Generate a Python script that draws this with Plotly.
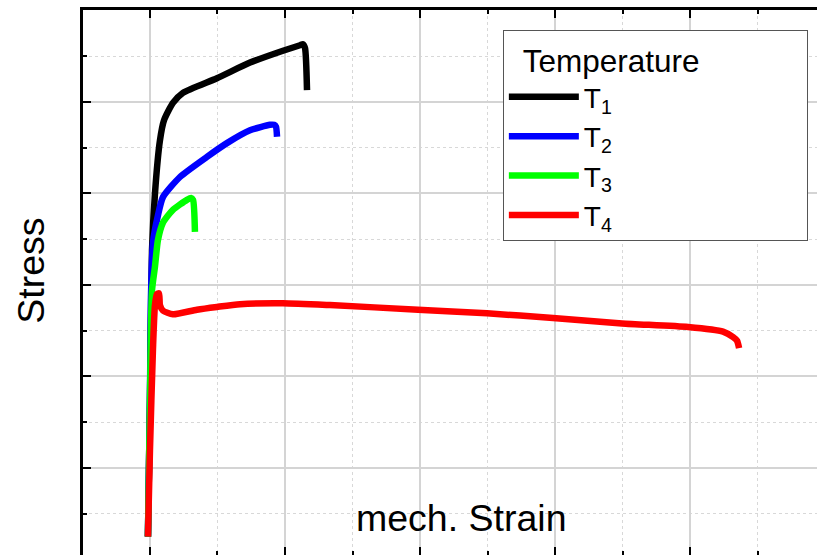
import plotly.graph_objects as go

# strain (arbitrary units, major grid every 10) and stress (major grid every 100)
t1_strain = [-0.15, 0.0, 0.15, 0.37, 0.74, 1.04, 1.70, 2.44, 4.96, 7.41, 9.85, 11.11, 11.33, 11.48, 11.63]
t1_stress = [-75, 74, 238, 300, 358, 380, 399, 410, 426, 443, 456, 462, 463, 459, 413]

t2_strain = [-0.15, 0.0, 0.07, 0.22, 0.59, 0.96, 2.22, 4.22, 5.70, 7.41, 8.89, 9.19, 9.33, 9.41]
t2_stress = [-75, 74, 184, 246, 276, 296, 318, 340, 355, 369, 375, 375, 373, 362]

t3_strain = [-0.15, 0.0, 0.15, 0.37, 0.59, 0.96, 1.70, 2.74, 3.04, 3.19, 3.33]
t3_stress = [-75, 74, 194, 220, 249, 268, 282, 293, 295, 293, 258]

t4_strain = [-0.15, 0.0, 0.22, 0.37, 0.52, 0.67, 0.74, 0.96, 1.70, 3.48, 4.96, 6.67, 9.85, 13.33,
             19.85, 24.96, 29.85, 34.96, 39.85, 42.44, 43.19, 43.48, 43.63]
t4_stress = [-75, 20, 129, 178, 190, 191, 178, 172, 168, 173, 176, 179, 180, 178,
             173, 169, 164, 158, 154, 149, 143, 139, 131]

series_names = ["T<sub>1</sub>", "T<sub>2</sub>", "T<sub>3</sub>", "T<sub>4</sub>"]
series_colors = ["#000000", "#0000ff", "#00ff00", "#ff0000"]
series_x = [t1_strain, t2_strain, t3_strain, t4_strain]
series_y = [t1_stress, t2_stress, t3_stress, t4_stress]

FONT = "Arial, Liberation Sans, sans-serif"

fig = go.Figure()
for name, col, xs, ys in zip(series_names, series_colors, series_x, series_y):
    fig.add_trace(go.Scatter(x=xs, y=ys, mode="lines", name=name,
                             line=dict(color=col, width=6.5, shape="spline", smoothing=0.6)))

axis_common = dict(showticklabels=False, ticks="inside", tickcolor="black",
                   showline=True, linecolor="black", linewidth=3,
                   gridcolor="#d4d4d4", gridwidth=1.5, zeroline=False, automargin=False)

fig.update_xaxes(range=[-4.96, 49.4], tick0=0, dtick=10, ticklen=8, tickwidth=2, mirror="allticks",
                 minor=dict(dtick=5, ticks="inside", ticklen=4, tickcolor="black",
                            showgrid=True, gridcolor="#d8d8d8", griddash="dot", gridwidth=1),
                 **axis_common)
fig.update_yaxes(range=[-95.1, 500.5], tick0=0, dtick=100, ticklen=8, tickwidth=2, mirror=False,
                 minor=dict(dtick=50, ticks="inside", ticklen=4, tickcolor="black",
                            showgrid=True, gridcolor="#d8d8d8", griddash="dot", gridwidth=1),
                 **axis_common)

fig.add_annotation(text="mech. Strain", x=0.515, y=0.068, xref="paper", yref="paper",
                   showarrow=False, font=dict(family=FONT, size=37.5, color="black"),
                   xanchor="center", yanchor="middle")
fig.add_annotation(text="Stress", x=-0.072, y=0.522, xref="paper", yref="paper",
                   showarrow=False, textangle=-90,
                   font=dict(family=FONT, size=37.5, color="black"),
                   xanchor="center", yanchor="middle")

pad = "&nbsp;" * 12
fig.update_layout(
    width=817, height=555,
    margin=dict(l=83, r=0, t=10, b=0, autoexpand=False),
    paper_bgcolor="white", plot_bgcolor="white",
    font=dict(family=FONT, color="black"),
    showlegend=True,
    legend=dict(x=0.572, y=0.963, xanchor="left", yanchor="top",
                bgcolor="white", bordercolor="#555555", borderwidth=1,
                font=dict(family=FONT, size=28, color="black"),
                title=dict(text="  Temperature" + pad, font=dict(family=FONT, size=31.5, color="black")),
                itemwidth=70, tracegroupgap=0),
)

fig.write_html("out.html", config={"displayModeBar": False},
               post_script="document.documentElement.style.overflow='hidden';"
                           "document.body.style.margin='0';document.body.style.overflow='hidden';")
